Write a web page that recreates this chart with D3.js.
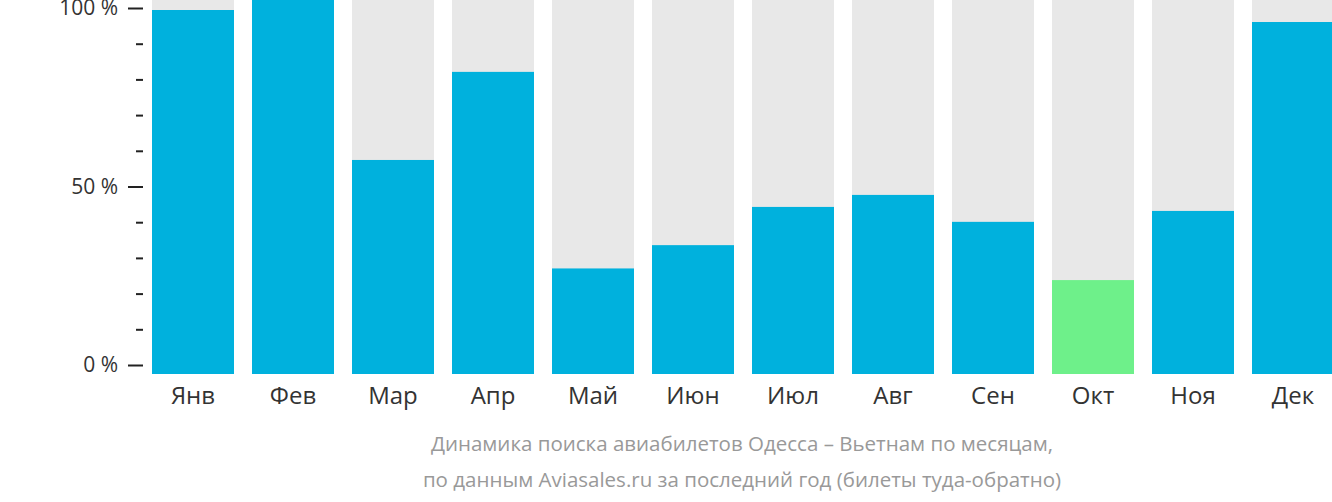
<!DOCTYPE html>
<html>
<head>
<meta charset="utf-8">
<script src="https://cdn.jsdelivr.net/npm/d3@7"></script>
<style>
  body { margin: 0; background: #fff; }
  svg text { font-family: "Open Sans", "Noto Sans", sans-serif; }
</style>
</head>
<body>
<svg id="chart" width="1332" height="502"></svg>
<script>
  var months = ['Янв', 'Фев', 'Мар', 'Апр', 'Май', 'Июн', 'Июл', 'Авг', 'Сен', 'Окт', 'Ноя', 'Дек'];
  var values = [100, 103, 58.8, 83, 29, 35.4, 45.9, 49.2, 41.8, 25.8, 44.8, 96.7];
  var highlight = 'Окт';
  var yTicks = [0, 50, 100];
  var captionLines = [
    'Динамика поиска авиабилетов Одесса – Вьетнам по месяцам,',
    'по данным Aviasales.ru за последний год (билеты туда-обратно)'
  ];

  var svg = d3.select('#chart');

  var x = d3.scaleBand().domain(months).range([152, 1334]).paddingInner(0.18).paddingOuter(0);
  // bars sit a little below the axis zero line, like the original
  var yBar = d3.scaleLinear().domain([0, 100]).range([374, 10]);
  var yAxisScale = d3.scaleLinear().domain([0, 100]).range([365, 8]);

  // grey background columns
  svg.selectAll('rect.bg').data(months).enter().append('rect')
    .attr('x', function (d) { return x(d); })
    .attr('y', 0)
    .attr('width', x.bandwidth())
    .attr('height', yBar(0))
    .attr('fill', '#e8e8e8');

  svg.selectAll('rect.bar').data(values).enter().append('rect')
    .attr('x', function (d, i) { return x(months[i]); })
    .attr('y', function (d) { return Math.max(0, yBar(d)); })
    .attr('width', x.bandwidth())
    .attr('height', function (d) { return yBar(0) - Math.max(0, yBar(d)); })
    .attr('fill', function (d, i) { return months[i] === highlight ? '#6ef08a' : '#00b1dd'; });

  // minor ticks
  var axisG = svg.append('g').attr('transform', 'translate(143,0)');
  axisG.call(d3.axisLeft(yAxisScale).tickValues(d3.range(0, 101, 10).filter(function (v) { return v % 50; }))
    .tickSize(7).tickFormat(''));
  axisG.select('.domain').remove();
  var major = svg.append('g').attr('transform', 'translate(143,0)');
  major.call(d3.axisLeft(yAxisScale).tickValues(yTicks).tickSize(15).tickPadding(10)
    .tickFormat(function (d) { return d + ' %'; }));
  major.select('.domain').remove();
  svg.selectAll('.tick line').attr('stroke', '#222').attr('stroke-width', 2);
  major.selectAll('.tick text').attr('font-size', 21).attr('fill', '#333')
    .style('font-family', '"Open Sans", sans-serif');

  svg.selectAll('text.month').data(months).enter().append('text')
    .attr('x', function (d) { return x(d) + x.bandwidth() / 2; })
    .attr('y', 404)
    .attr('text-anchor', 'middle')
    .attr('font-size', 24)
    .attr('fill', '#333')
    .text(function (d) { return d; });

  svg.selectAll('text.caption').data(captionLines).enter().append('text')
    .attr('x', 742)
    .attr('y', function (d, i) { return 451 + i * 36; })
    .attr('text-anchor', 'middle')
    .attr('font-size', 20.5)
    .attr('fill', '#999')
    .text(function (d) { return d; });
</script>
</body>
</html>
